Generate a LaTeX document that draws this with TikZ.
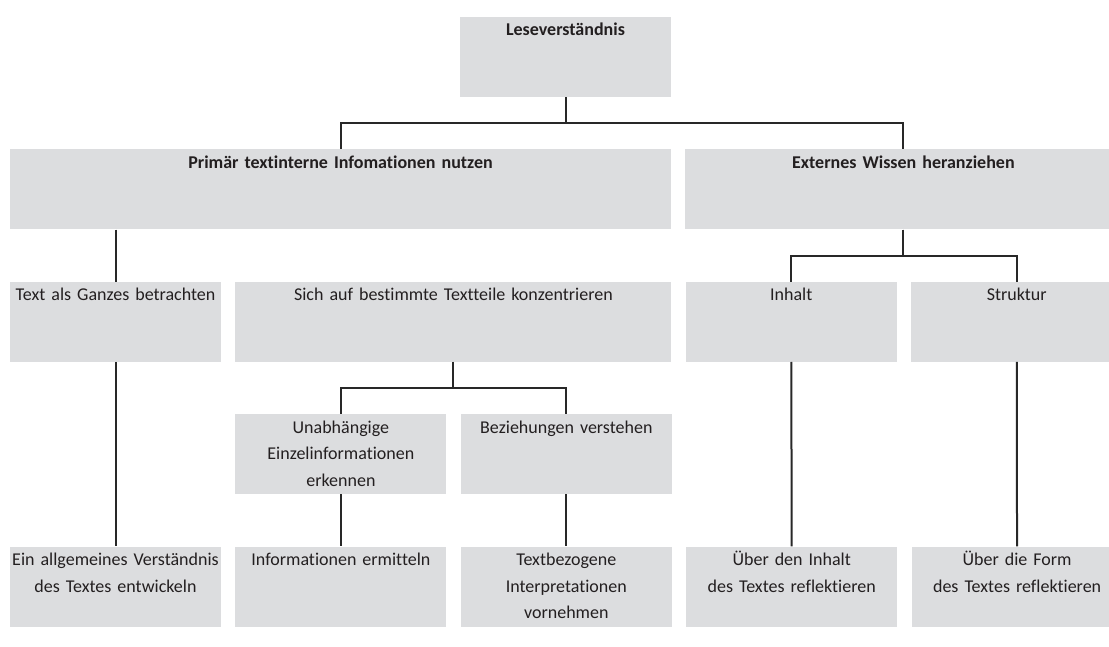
\documentclass[tikz,border=0pt]{standalone}
\usepackage{fontspec}
\setmainfont{Carlito}[Ligatures=NoCommon]
\usepackage{tikz}
\usetikzlibrary{positioning}
\definecolor{boxgray}{RGB}{220,221,223}
\definecolor{linegray}{RGB}{40,40,40}
\definecolor{textgray}{RGB}{35,31,32}
\tikzset{
    box/.style={fill=boxgray, text=textgray, inner xsep=0pt, inner ysep=5pt, text width=211pt, align=center, text height=14pt, text depth=56pt, font=\fontsize{18}{26.5}\selectfont},
    wide/.style={text width=436pt},
    wider/.style={text width=661pt},
    heading/.style={font=\fontsize{18}{26.5}\selectfont\bfseries},
    link/.style={draw=linegray, line width=2pt}
}

\begin{document}
\begin{tikzpicture}[x=1pt, y=1pt, node distance=52pt and 14pt]
    \useasboundingbox (0,0) rectangle (1109,646);
    \clip (0,0) rectangle (1109,646);

    % top levels
    \node[box, heading] (lese) at (565.5,589) {Leseverständnis};
    \node[box, heading, wider, below=of lese.south east, anchor=north east] (intern) {Primär textinterne Infomationen nutzen};
    \node[box, heading, wide, right=of intern.north east, anchor=north west] (extern) {Externes Wissen heranziehen};

    % second level
    \node[box, below=of intern.south west, anchor=north west] (ganz) {Text als Ganzes betrachten};
    \node[box, wide, right=of ganz] (teile) {Sich auf bestimmte Textteile konzentrieren};
    \node[box, right=of teile] (inhalt) {Inhalt};
    \node[box, right=of inhalt] (struktur) {Struktur};

    % third level
    \node[box, below=of teile.south west, anchor=north west] (unab) {Unabhängige\\Einzelinformationen\\erkennen};
    \node[box, right=of unab] (bez) {Beziehungen verstehen};

    % bottom level
    \node[box, below=of unab] (ermit) {Informationen ermitteln};
    \node[box, left=of ermit] (allg) {Ein allgemeines Verständnis\\des Textes entwickeln};
    \node[box, right=of ermit] (textbez) {Textbezogene\\Interpretationen\\vornehmen};
    \node[box, right=of textbez] (reflinh) {Über den Inhalt\\des Textes reflektieren};
    \node[box, right=of reflinh] (refform) {Über die Form\\des Textes reflektieren};

    \draw[link] (lese.south) -- ++(0,-26) -| (intern.north);
    \draw[link] (lese.south) -- ++(0,-26) -| (extern.north);
    \draw[link] (intern.south -| ganz.north) -- (ganz.north);
    \draw[link] (ganz) -- (allg);
    \draw[link] (teile.south) -- ++(0,-26) -| (unab.north);
    \draw[link] (teile.south) -- ++(0,-26) -| (bez.north);
    \draw[link] (unab) -- (ermit);
    \draw[link] (bez) -- (textbez);
    \draw[link] (extern.south) -- ++(0,-26) -| (inhalt.north);
    \draw[link] (extern.south) -- ++(0,-26) -| (struktur.north);
    \draw[link] (inhalt) -- (reflinh);
    \draw[link] (struktur) -- (refform);
\end{tikzpicture}
\end{document}
